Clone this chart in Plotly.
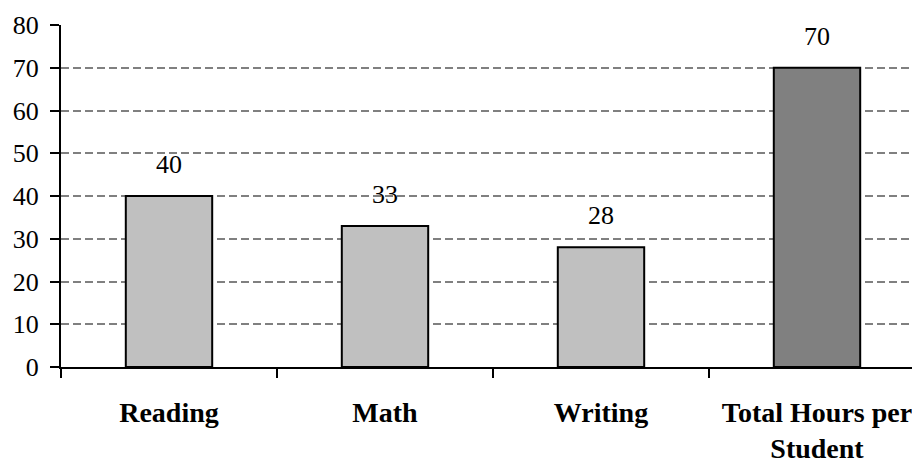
import plotly.graph_objects as go

categories = ["Reading", "Math", "Writing", "Total Hours per<br>Student"]
values = [40, 33, 28, 70]
bar_colors = ["#C0C0C0", "#C0C0C0", "#C0C0C0", "#808080"]
y_ticks = [0, 10, 20, 30, 40, 50, 60, 70, 80]

font_family = "Times New Roman, Liberation Serif, serif"

fig = go.Figure()
fig.add_trace(go.Bar(
    x=categories, y=values,
    marker=dict(color=bar_colors, line=dict(color="black", width=2)),
    width=0.4,
    hoverinfo="skip",
))

for c, v in zip(categories, values):
    fig.add_annotation(x=c, y=v, text=str(v), showarrow=False,
                       yanchor="bottom", yshift=15,
                       font=dict(family=font_family, size=26, color="black"))

fig.update_layout(
    width=920, height=461,
    margin=dict(l=53, r=3, t=17, b=102, autoexpand=False),
    paper_bgcolor="white", plot_bgcolor="white",
    showlegend=False,
    font=dict(family=font_family, color="black"),
)
fig.update_xaxes(
    type="category",
    range=[-0.5, 3.5],
    showline=True, linecolor="black", linewidth=2,
    ticks="outside", tickson="boundaries", ticklen=9, tickwidth=2, tickcolor="black",
    showgrid=False, automargin=False,
    tickfont=dict(family=font_family, size=28, color="black", weight="bold"),
    ticklabelstandoff=19,
)
fig.update_yaxes(
    range=[0, 80], tickvals=y_ticks,
    showline=True, linecolor="black", linewidth=2,
    ticks="outside", ticklen=9, tickwidth=2, tickcolor="black",
    showgrid=True, gridcolor="#808080", gridwidth=1.5, griddash="8px,4px",
    zeroline=False, automargin=False,
    tickfont=dict(family=font_family, size=26, color="black"),
    ticklabelstandoff=6,
)

fig.write_html("out.html")
